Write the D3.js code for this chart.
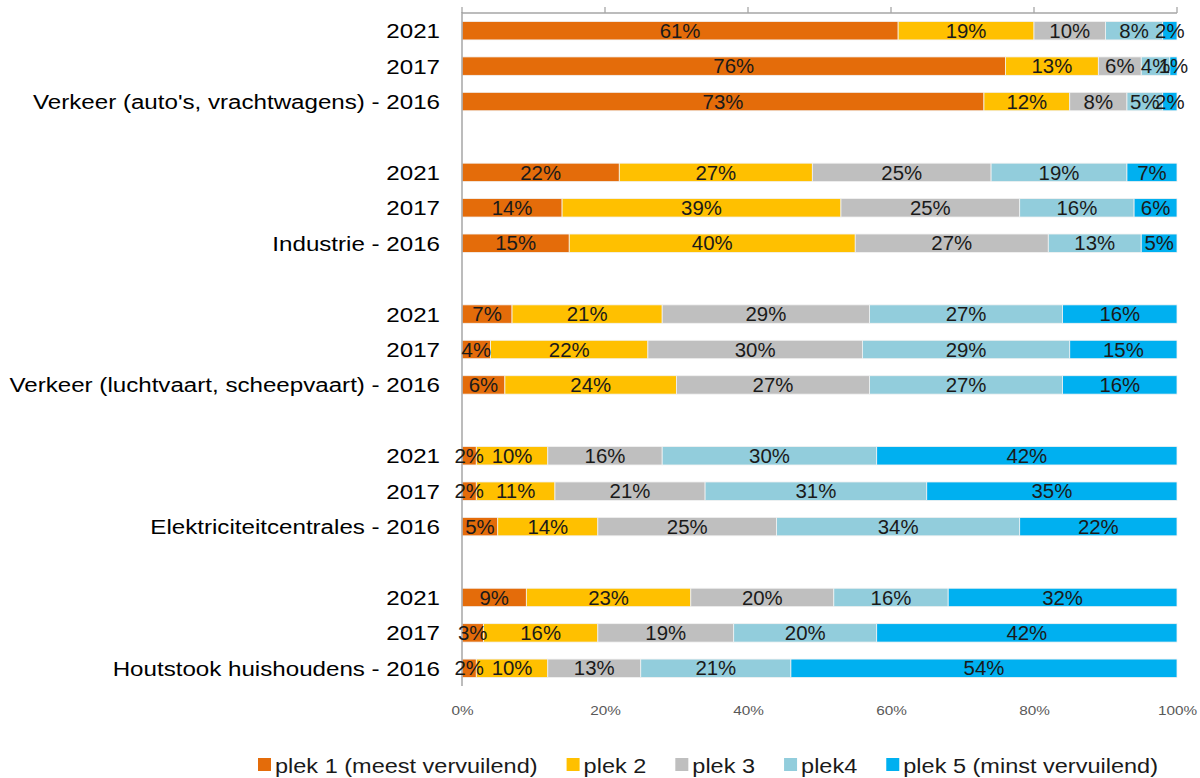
<!DOCTYPE html>
<meta charset="utf-8">
<style>
body{margin:0;background:#fff;}
text{font-family:"Liberation Sans",Arial,Helvetica,sans-serif;}
.cat{font-size:21px;fill:#000;text-anchor:end;}
.val{font-size:20px;fill:#1a1a1a;text-anchor:middle;}
.tick text{font-size:13px;fill:#595959;}
.leg{font-size:21px;fill:#1a1a1a;}
</style>
<body>
<script src="https://d3js.org/d3.v7.min.js"></script>
<script>

// categories from top to bottom, "" = empty spacer row
var categories=["2021","2017","Verkeer (auto's, vrachtwagens) - 2016","",
  "2021","2017","Industrie - 2016","",
  "2021","2017","Verkeer (luchtvaart, scheepvaart) - 2016","",
  "2021","2017","Elektriciteitcentrales - 2016","",
  "2021","2017","Houtstook huishoudens - 2016"];

var series=["plek 1 (meest vervuilend)","plek 2","plek 3","plek4","plek 5 (minst vervuilend)"];
var colors=["#E46C0A","#FFC000","#BFBFBF","#92CDDC","#00B0F0"];

// one array per series, same order as categories (null for spacer rows)
var plek1=[61,76,73,null,22,14,15,null,7,4,6,null,2,2,5,null,9,3,2];
var plek2=[19,13,12,null,27,39,40,null,21,22,24,null,10,11,14,null,23,16,10];
var plek3=[10,6,8,null,25,25,27,null,29,30,27,null,16,21,25,null,20,19,13];
var plek4=[8,4,5,null,19,16,13,null,27,29,27,null,30,31,34,null,16,20,21];
var plek5=[2,1,2,null,7,6,5,null,16,15,16,null,42,35,22,null,32,42,54];

var tickValues=[0,0.2,0.4,0.6,0.8,1];

var W=1200,H=778;
var SX=1.15; // category text in the reference is drawn a bit wide
var svg=d3.select("body").append("svg").attr("width",W).attr("height",H);

var x=d3.scaleLinear().domain([0,1]).range([462,1177]);
var y=d3.scaleBand().domain(d3.range(categories.length)).range([13,686]).paddingInner(0.48).paddingOuter(0.24);

var rows=categories.map(function(c,i){
  return {cat:c,i:i,vals:[plek1[i],plek2[i],plek3[i],plek4[i],plek5[i]]};
});
var stacked=[];
rows.forEach(function(r){
  if(r.vals[0]==null) return;
  var tot=d3.sum(r.vals),acc=0;
  r.vals.forEach(function(v,k){
    stacked.push({i:r.i,k:k,v:v,x0:acc/tot,x1:(acc+v)/tot});
    acc+=v;
  });
});

function at(px,py,s){ return "translate("+px+","+py+") scale("+(s||SX)+",1)"; }

// top axis line, ticks pointing up
var gTop=svg.append("g").attr("transform","translate(0,13)");
gTop.append("line").attr("x1",x(0)).attr("x2",x(1)).attr("stroke","#a6a6a6").attr("stroke-width",1.3);
gTop.selectAll("line.t").data(tickValues).enter().append("line").attr("class","t")
  .attr("x1",d=>x(d)).attr("x2",d=>x(d)).attr("y1",-6).attr("y2",0)
  .attr("stroke","#a6a6a6").attr("stroke-width",1.3);

// bars
svg.append("g").selectAll("rect").data(stacked).enter().append("rect")
  .attr("x",d=>x(d.x0)).attr("width",d=>x(d.x1)-x(d.x0))
  .attr("y",d=>y(d.i)).attr("height",y.bandwidth())
  .attr("fill",d=>colors[d.k])
  .attr("stroke","#f2f2f2").attr("stroke-width",0.8);

// vertical axis line
svg.append("line").attr("x1",x(0)).attr("x2",x(0)).attr("y1",12).attr("y2",686)
  .attr("stroke","#a6a6a6").attr("stroke-width",1.5);

// value labels
svg.append("g").selectAll("text").data(stacked).enter().append("text").attr("class","val")
  .attr("transform",d=>at((x(d.x0)+x(d.x1))/2,y(d.i)+y.bandwidth()/2,1.02)).attr("dy","0.36em")
  .text(d=>d.v+"%");

// category labels
svg.append("g").selectAll("text").data(rows.filter(r=>r.cat!=="")).enter().append("text").attr("class","cat")
  .attr("transform",d=>at(440,y(d.i)+y.bandwidth()/2)).attr("dy","0.36em")
  .text(d=>d.cat);

// bottom tick labels
var axis=d3.axisBottom(x).tickValues(tickValues).tickFormat(d3.format(".0%")).tickSize(0).tickPadding(0);
var gB=svg.append("g").attr("class","xaxis").attr("transform","translate(0,706)").call(axis);
gB.select(".domain").remove();
gB.selectAll(".tick text").attr("transform","scale(1.18,1)");

// legend
var LSX=1.12;
var leg=svg.append("g").attr("transform","translate(258,765)");
var lx=0;
series.forEach(function(s,k){
  var g=leg.append("g").attr("transform","translate("+lx+",0)");
  g.append("rect").attr("x",0).attr("y",-7).attr("width",13).attr("height",13).attr("fill",colors[k]);
  var t=g.append("text").attr("class","leg").attr("transform",at(17,0,LSX)).attr("dy","0.36em").text(s);
  lx+=17+t.node().getComputedTextLength()*LSX+29;
});
</script>
</body>
</html>
